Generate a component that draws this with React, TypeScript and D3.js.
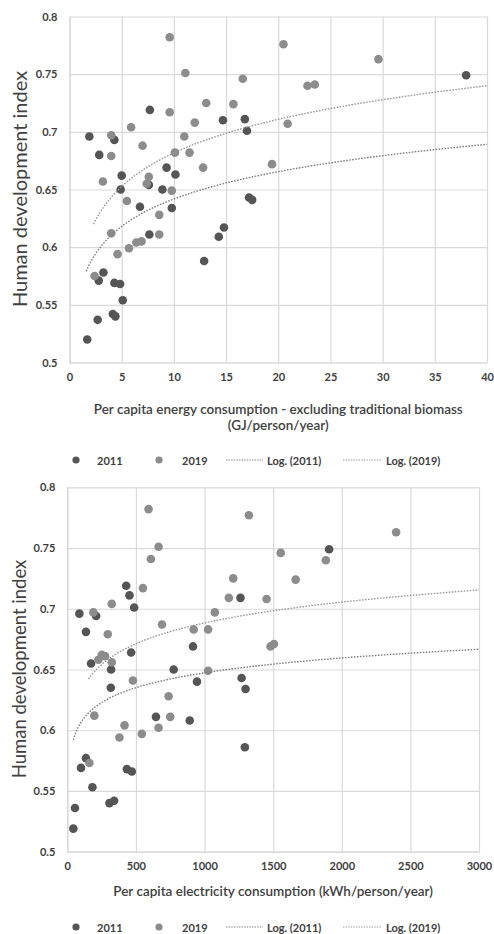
import * as d3 from 'd3';
import React, { Component } from 'react';

// HDI vs per capita energy consumption (GJ/person/year)
const energy2011: [number, number][] = [
  [1.7, 0.52], [2.7, 0.537], [4.15, 0.542], [4.4, 0.54], [5.1, 0.554], [2.8, 0.571],
  [3.25, 0.578], [4.3, 0.569], [4.85, 0.568], [12.9, 0.588], [14.3, 0.609], [14.8, 0.617],
  [7.65, 0.611], [6.75, 0.635], [9.8, 0.634], [17.2, 0.643], [17.5, 0.641], [4.9, 0.65],
  [7.6, 0.654], [8.9, 0.65], [5.0, 0.662], [10.15, 0.663], [9.3, 0.669], [2.85, 0.68],
  [1.9, 0.696], [4.3, 0.693], [7.7, 0.719], [14.7, 0.71], [16.8, 0.711], [17.0, 0.701],
  [38.0, 0.749],
];
const energy2019: [number, number][] = [
  [2.4, 0.575], [4.6, 0.594], [5.7, 0.599], [6.4, 0.604], [6.9, 0.605], [8.6, 0.611],
  [4.0, 0.612], [8.6, 0.628], [5.5, 0.64], [9.8, 0.649], [7.4, 0.655], [3.2, 0.657],
  [7.6, 0.661], [12.8, 0.669], [19.4, 0.672], [4.0, 0.679], [10.1, 0.682], [11.5, 0.682],
  [7.0, 0.688], [4.0, 0.697], [11.0, 0.696], [5.9, 0.704], [12.0, 0.708], [20.9, 0.707],
  [9.6, 0.717], [13.1, 0.725], [15.7, 0.724], [22.8, 0.74], [23.5, 0.741], [16.6, 0.746],
  [11.1, 0.751], [29.6, 0.763], [20.5, 0.776], [9.6, 0.782],
];
const energyXTicks = [0, 5, 10, 15, 20, 25, 30, 35, 40];
// log trendlines: [slope, intercept, xFrom, xTo]
const energyLog2011 = [0.0342, 0.563, 1.6, 40];
const energyLog2019 = [0.042, 0.585, 2.3, 40];

// HDI vs per capita electricity consumption (kWh/person/year)
const elec2011: [number, number][] = [
  [88, 0.696], [136, 0.681], [173, 0.655], [319, 0.65], [317, 0.635], [210, 0.694],
  [429, 0.719], [453, 0.711], [487, 0.701], [465, 0.664], [775, 0.65], [916, 0.669],
  [945, 0.64], [646, 0.611], [892, 0.608], [1270, 0.643], [1299, 0.634], [1262, 0.709],
  [1294, 0.586], [100, 0.569], [136, 0.577], [183, 0.553], [434, 0.568], [470, 0.566],
  [56, 0.536], [44, 0.519], [307, 0.54], [341, 0.542], [1908, 0.749],
];
const elec2019: [number, number][] = [
  [592, 0.782], [665, 0.751], [609, 0.741], [1323, 0.777], [1555, 0.746], [1664, 0.724],
  [1209, 0.725], [1177, 0.709], [1452, 0.708], [551, 0.717], [324, 0.704], [190, 0.697],
  [1075, 0.697], [295, 0.679], [690, 0.687], [921, 0.683], [1026, 0.683], [1481, 0.669],
  [1506, 0.671], [227, 0.658], [251, 0.662], [275, 0.661], [324, 0.656], [478, 0.641],
  [1026, 0.649], [738, 0.628], [750, 0.611], [665, 0.602], [543, 0.597], [417, 0.604],
  [380, 0.594], [197, 0.612], [161, 0.573], [2396, 0.763], [1884, 0.74],
];
const elecXTicks = [0, 500, 1000, 1500, 2000, 2500, 3000];
const elecLog2011 = [0.01767, 0.5252, 44, 3000];
const elecLog2019 = [0.0247, 0.5177, 154, 3000];

const hdiTicks = [0.5, 0.55, 0.6, 0.65, 0.7, 0.75, 0.8];
const legendLabels = ['2011', '2019', 'Log. (2011)', 'Log. (2019)'];

const FONT = 'Lato, "Open Sans", sans-serif';
const TEXT = '#404040';
const GRID = '#d9d9d9';
const DARK = '#555555';
const LIGHT = '#8c8c8c';

class App extends Component {
  private node: any;

  componentDidMount() {
    this.draw();
  }

  componentDidUpdate() {
    this.draw();
  }

  draw() {
    const svg = d3.select(this.node);
    svg.selectAll('*').remove();

    drawPanel(svg, {
      d2011: energy2011,
      d2019: energy2019,
      log2011: energyLog2011,
      log2019: energyLog2019,
      xTicks: energyXTicks,
      left: 69.5,
      right: 487,
      top: 16.5,
      bottom: 362.5,
      titleY: 189,
      titleSize: 20,
      xTitle: ['Per capita energy consumption - excluding traditional biomass', '(GJ/person/year)'],
      xTitleY: 409,
      legendY: 460,
    });

    drawPanel(svg, {
      d2011: elec2011,
      d2019: elec2019,
      log2011: elecLog2011,
      log2019: elecLog2019,
      xTicks: elecXTicks,
      left: 67.3,
      right: 479,
      top: 487.3,
      bottom: 851.7,
      titleY: 669,
      titleSize: 18.5,
      xTitle: ['Per capita electricity consumption (kWh/person/year)'],
      xTitleY: 891,
      legendY: 927,
    });
  }

  render() {
    return (
      <svg
        ref={node => (this.node = node)}
        width={494}
        height={934}
        style={{ position: 'absolute', left: 0, top: 0, background: '#fff' }}
      />
    );
  }
}

function drawPanel(svg, p) {
  const g = svg.append('g');
  const xMax = p.xTicks[p.xTicks.length - 1];
  const x = d3.scaleLinear().domain([0, xMax]).range([p.left, p.right]);
  const y = d3.scaleLinear().domain([0.5, 0.8]).range([p.bottom, p.top]);

  const xAxis = d3
    .axisBottom(x)
    .tickValues(p.xTicks)
    .tickSize(-(p.bottom - p.top))
    .tickSizeOuter(0)
    .tickPadding(11)
    .tickFormat(d3.format('d'));
  g.append('g').attr('transform', 'translate(0,' + p.bottom + ')').call(xAxis);

  const yAxis = d3
    .axisLeft(y)
    .tickValues(hdiTicks)
    .tickSize(-(p.right - p.left))
    .tickSizeOuter(0)
    .tickPadding(12)
    .tickFormat((d: any) => String(+(+d).toFixed(2)));
  g.append('g').attr('transform', 'translate(' + p.left + ',0)').call(yAxis);

  g.selectAll('.domain').attr('stroke', GRID).attr('stroke-width', 1.2);
  g.selectAll('.tick line').attr('stroke', GRID).attr('stroke-width', 1.2);
  g.selectAll('.tick text')
    .attr('fill', TEXT)
    .attr('font-family', FONT)
    .attr('font-size', 11)
    .attr('font-weight', 700);

  // points
  g.append('g')
    .selectAll('circle')
    .data(p.d2011)
    .enter()
    .append('circle')
    .attr('cx', (d: any) => x(d[0]))
    .attr('cy', (d: any) => y(d[1]))
    .attr('r', 4.3)
    .attr('fill', DARK);
  g.append('g')
    .selectAll('circle')
    .data(p.d2019)
    .enter()
    .append('circle')
    .attr('cx', (d: any) => x(d[0]))
    .attr('cy', (d: any) => y(d[1]))
    .attr('r', 4.3)
    .attr('fill', LIGHT);

  // logarithmic trendlines
  const line = d3.line();
  [p.log2011, p.log2019].forEach((t, i) => {
    const [a, b, x0, x1] = t;
    const xs = d3.range(x0, x1, (x1 - x0) / 300).concat([x1]);
    const pts: [number, number][] = xs.map(v => [x(v), y(a * Math.log(v) + b)]);
    g.append('path')
      .attr('d', line(pts))
      .attr('fill', 'none')
      .attr('stroke', i === 0 ? '#7f7f7f' : '#9a9a9a')
      .attr('stroke-width', 1.4)
      .attr('stroke-dasharray', '1.6,1.4');
  });

  // y title
  g.append('text')
    .attr('transform', 'translate(19,' + p.titleY + ') rotate(-90)')
    .attr('text-anchor', 'middle')
    .attr('dominant-baseline', 'central')
    .attr('font-family', FONT)
    .attr('font-size', p.titleSize)
    .attr('fill', TEXT)
    .text('Human development index');

  // x title
  const cx = (p.left + p.right) / 2;
  p.xTitle.forEach((s, i) => {
    g.append('text')
      .attr('x', cx)
      .attr('y', p.xTitleY + i * 16)
      .attr('text-anchor', 'middle')
      .attr('dominant-baseline', 'central')
      .attr('font-family', FONT)
      .attr('font-size', 13.5)
      .attr('font-weight', 600)
      .attr('fill', TEXT)
      .text(s);
  });

  // legend
  const lg = g.append('g').attr('transform', 'translate(0,' + p.legendY + ')');
  const textX = [97, 182, 267, 386];
  lg.append('circle').attr('cx', 76).attr('cy', 0).attr('r', 3.6).attr('fill', DARK);
  lg.append('circle').attr('cx', 159).attr('cy', 0).attr('r', 3.6).attr('fill', LIGHT);
  [[226, 263, '#7f7f7f'], [343, 382, '#9a9a9a']].forEach((l: any) => {
    lg.append('line')
      .attr('x1', l[0])
      .attr('x2', l[1])
      .attr('y1', 0)
      .attr('y2', 0)
      .attr('stroke', l[2])
      .attr('stroke-width', 1.2)
      .attr('stroke-dasharray', '1.4,1.2');
  });
  legendLabels.forEach((s, i) => {
    lg.append('text')
      .attr('x', textX[i])
      .attr('y', 0)
      .attr('dominant-baseline', 'central')
      .attr('font-family', FONT)
      .attr('font-size', 11)
      .attr('font-weight', 700)
      .attr('fill', TEXT)
      .text(s);
  });
}

export default App;
